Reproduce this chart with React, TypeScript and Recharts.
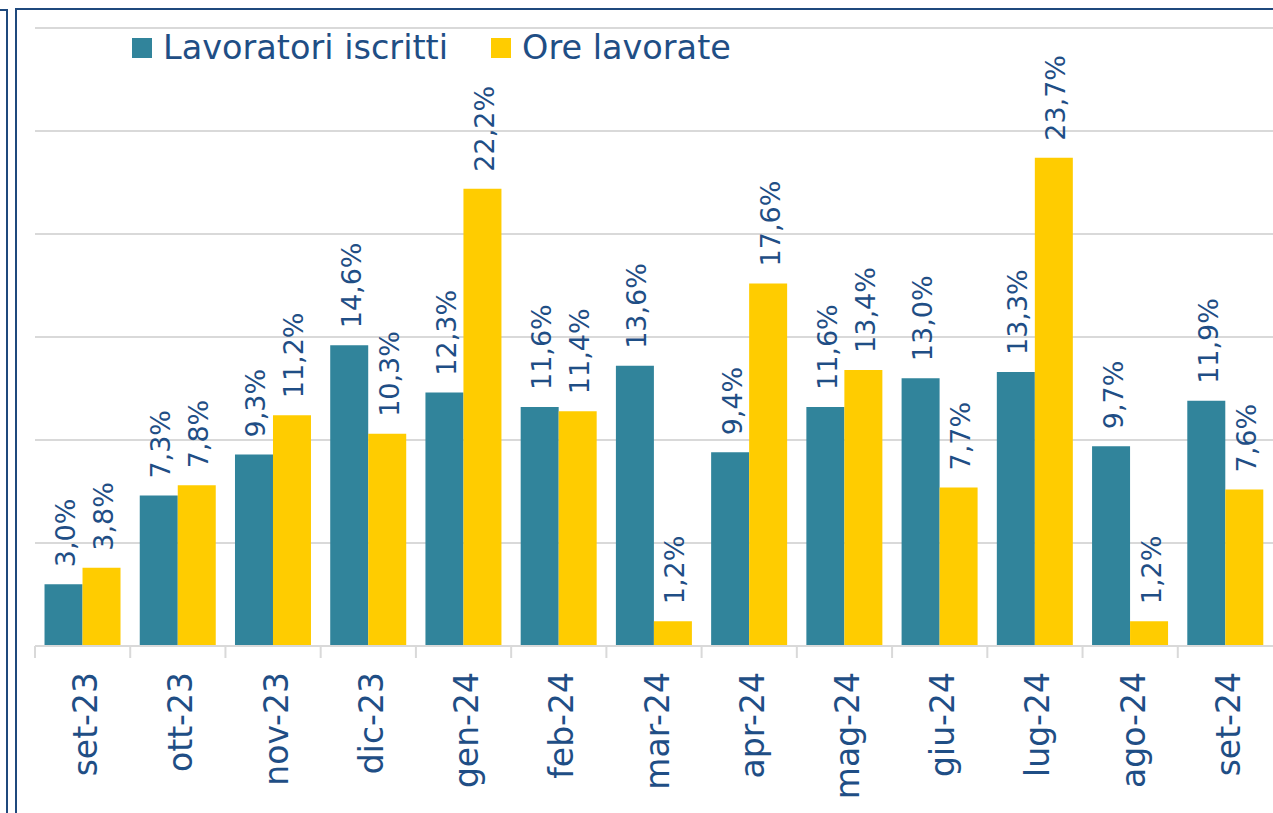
import React from "react"
import { BarChart, Bar, XAxis, YAxis, CartesianGrid, LabelList } from "recharts"

// Variazione % mensile
const months = ["set-23", "ott-23", "nov-23", "dic-23", "gen-24", "feb-24", "mar-24", "apr-24", "mag-24", "giu-24", "lug-24", "ago-24", "set-24"]
const lavoratori = [3.0, 7.3, 9.3, 14.6, 12.3, 11.6, 13.6, 9.4, 11.6, 13.0, 13.3, 9.7, 11.9]
const ore = [3.8, 7.8, 11.2, 10.3, 22.2, 11.4, 1.2, 17.6, 13.4, 7.7, 23.7, 1.2, 7.6]
const yTicks = [0, 5, 10, 15, 20, 25, 30]

const data = months.map((m, i) => ({ month: m, lavoratori: lavoratori[i], ore: ore[i] }))

const TEXT = "#1f4e85"
const FONT = "'DejaVu Sans', sans-serif"
const BAND = 1238 / months.length

const fmt = (v: number) => v.toFixed(1).replace(".", ",") + "%"

function ValueLabel(props: any) {
  const { x, y, width, value } = props
  const cx = x + width / 2 + 2
  const ty = y - 17
  return (
    <text
      x={cx}
      y={ty}
      transform={`rotate(-90, ${cx}, ${ty})`}
      textAnchor="start"
      dominantBaseline="central"
      fill={TEXT}
      fontSize={27}
      fontFamily={FONT}
    >
      {fmt(value)}
    </text>
  )
}

function MonthTick(props: any) {
  const { x, payload } = props
  const left = x - BAND / 2
  const tx = x + 3
  const ty = 672
  return (
    <g>
      <line x1={left} y1={646} x2={left} y2={658} stroke="#d9d9d9" strokeWidth={2} />
      <text
        x={tx}
        y={ty}
        transform={`rotate(-90, ${tx}, ${ty})`}
        textAnchor="end"
        dominantBaseline="central"
        fill={TEXT}
        fontSize={33}
        fontFamily={FONT}
      >
        {payload.value}
      </text>
    </g>
  )
}

function LegendBox() {
  const item = (color: string, label: string, gap: number) => (
    <div style={{ display: "flex", alignItems: "center", marginRight: gap }}>
      <div style={{ width: 20, height: 20, background: color, marginRight: 11 }} />
      <span style={{ fontSize: 33.5, color: TEXT, fontFamily: FONT, lineHeight: "38px" }}>{label}</span>
    </div>
  )
  return (
    <div style={{ position: "absolute", left: 132, top: 29, display: "flex", zIndex: 2 }}>
      {item("#31849b", "Lavoratori iscritti", 43)}
      {item("#ffcc00", "Ore lavorate", 0)}
    </div>
  )
}

export default function App() {
  return (
    <div style={{ position: "absolute", left: 0, top: 0, width: 1273, height: 813, background: "#fff", overflow: "hidden" }}>
      <div style={{ position: "absolute", left: 0, top: 9, width: 7, height: 2, background: "#1f497d" }} />
      <div style={{ position: "absolute", left: 6, top: 9, width: 2, height: 804, background: "#1f497d" }} />
      <div style={{ position: "absolute", left: 15, top: 8, width: 1258, height: 2, background: "#1f497d" }} />
      <div style={{ position: "absolute", left: 15, top: 8, width: 2, height: 805, background: "#1f497d" }} />
      <BarChart
        width={1273}
        height={813}
        data={data}
        margin={{ top: 28, right: 0, left: 35, bottom: 0 }}
        barCategoryGap="10%"
        barGap={0}
      >
        <CartesianGrid vertical={false} stroke="#d9d9d9" strokeWidth={2} />
        <XAxis
          dataKey="month"
          height={167}
          axisLine={{ stroke: "#d9d9d9", strokeWidth: 2 }}
          tickLine={false}
          interval={0}
          tick={<MonthTick />}
        />
        <YAxis hide domain={[0, 30]} ticks={yTicks} />
        <Bar dataKey="lavoratori" name="Lavoratori iscritti" fill="#31849b" isAnimationActive={false}>
          <LabelList dataKey="lavoratori" content={<ValueLabel />} />
        </Bar>
        <Bar dataKey="ore" name="Ore lavorate" fill="#ffcc00" isAnimationActive={false}>
          <LabelList dataKey="ore" content={<ValueLabel />} />
        </Bar>
      </BarChart>
      <LegendBox />
    </div>
  )
}
